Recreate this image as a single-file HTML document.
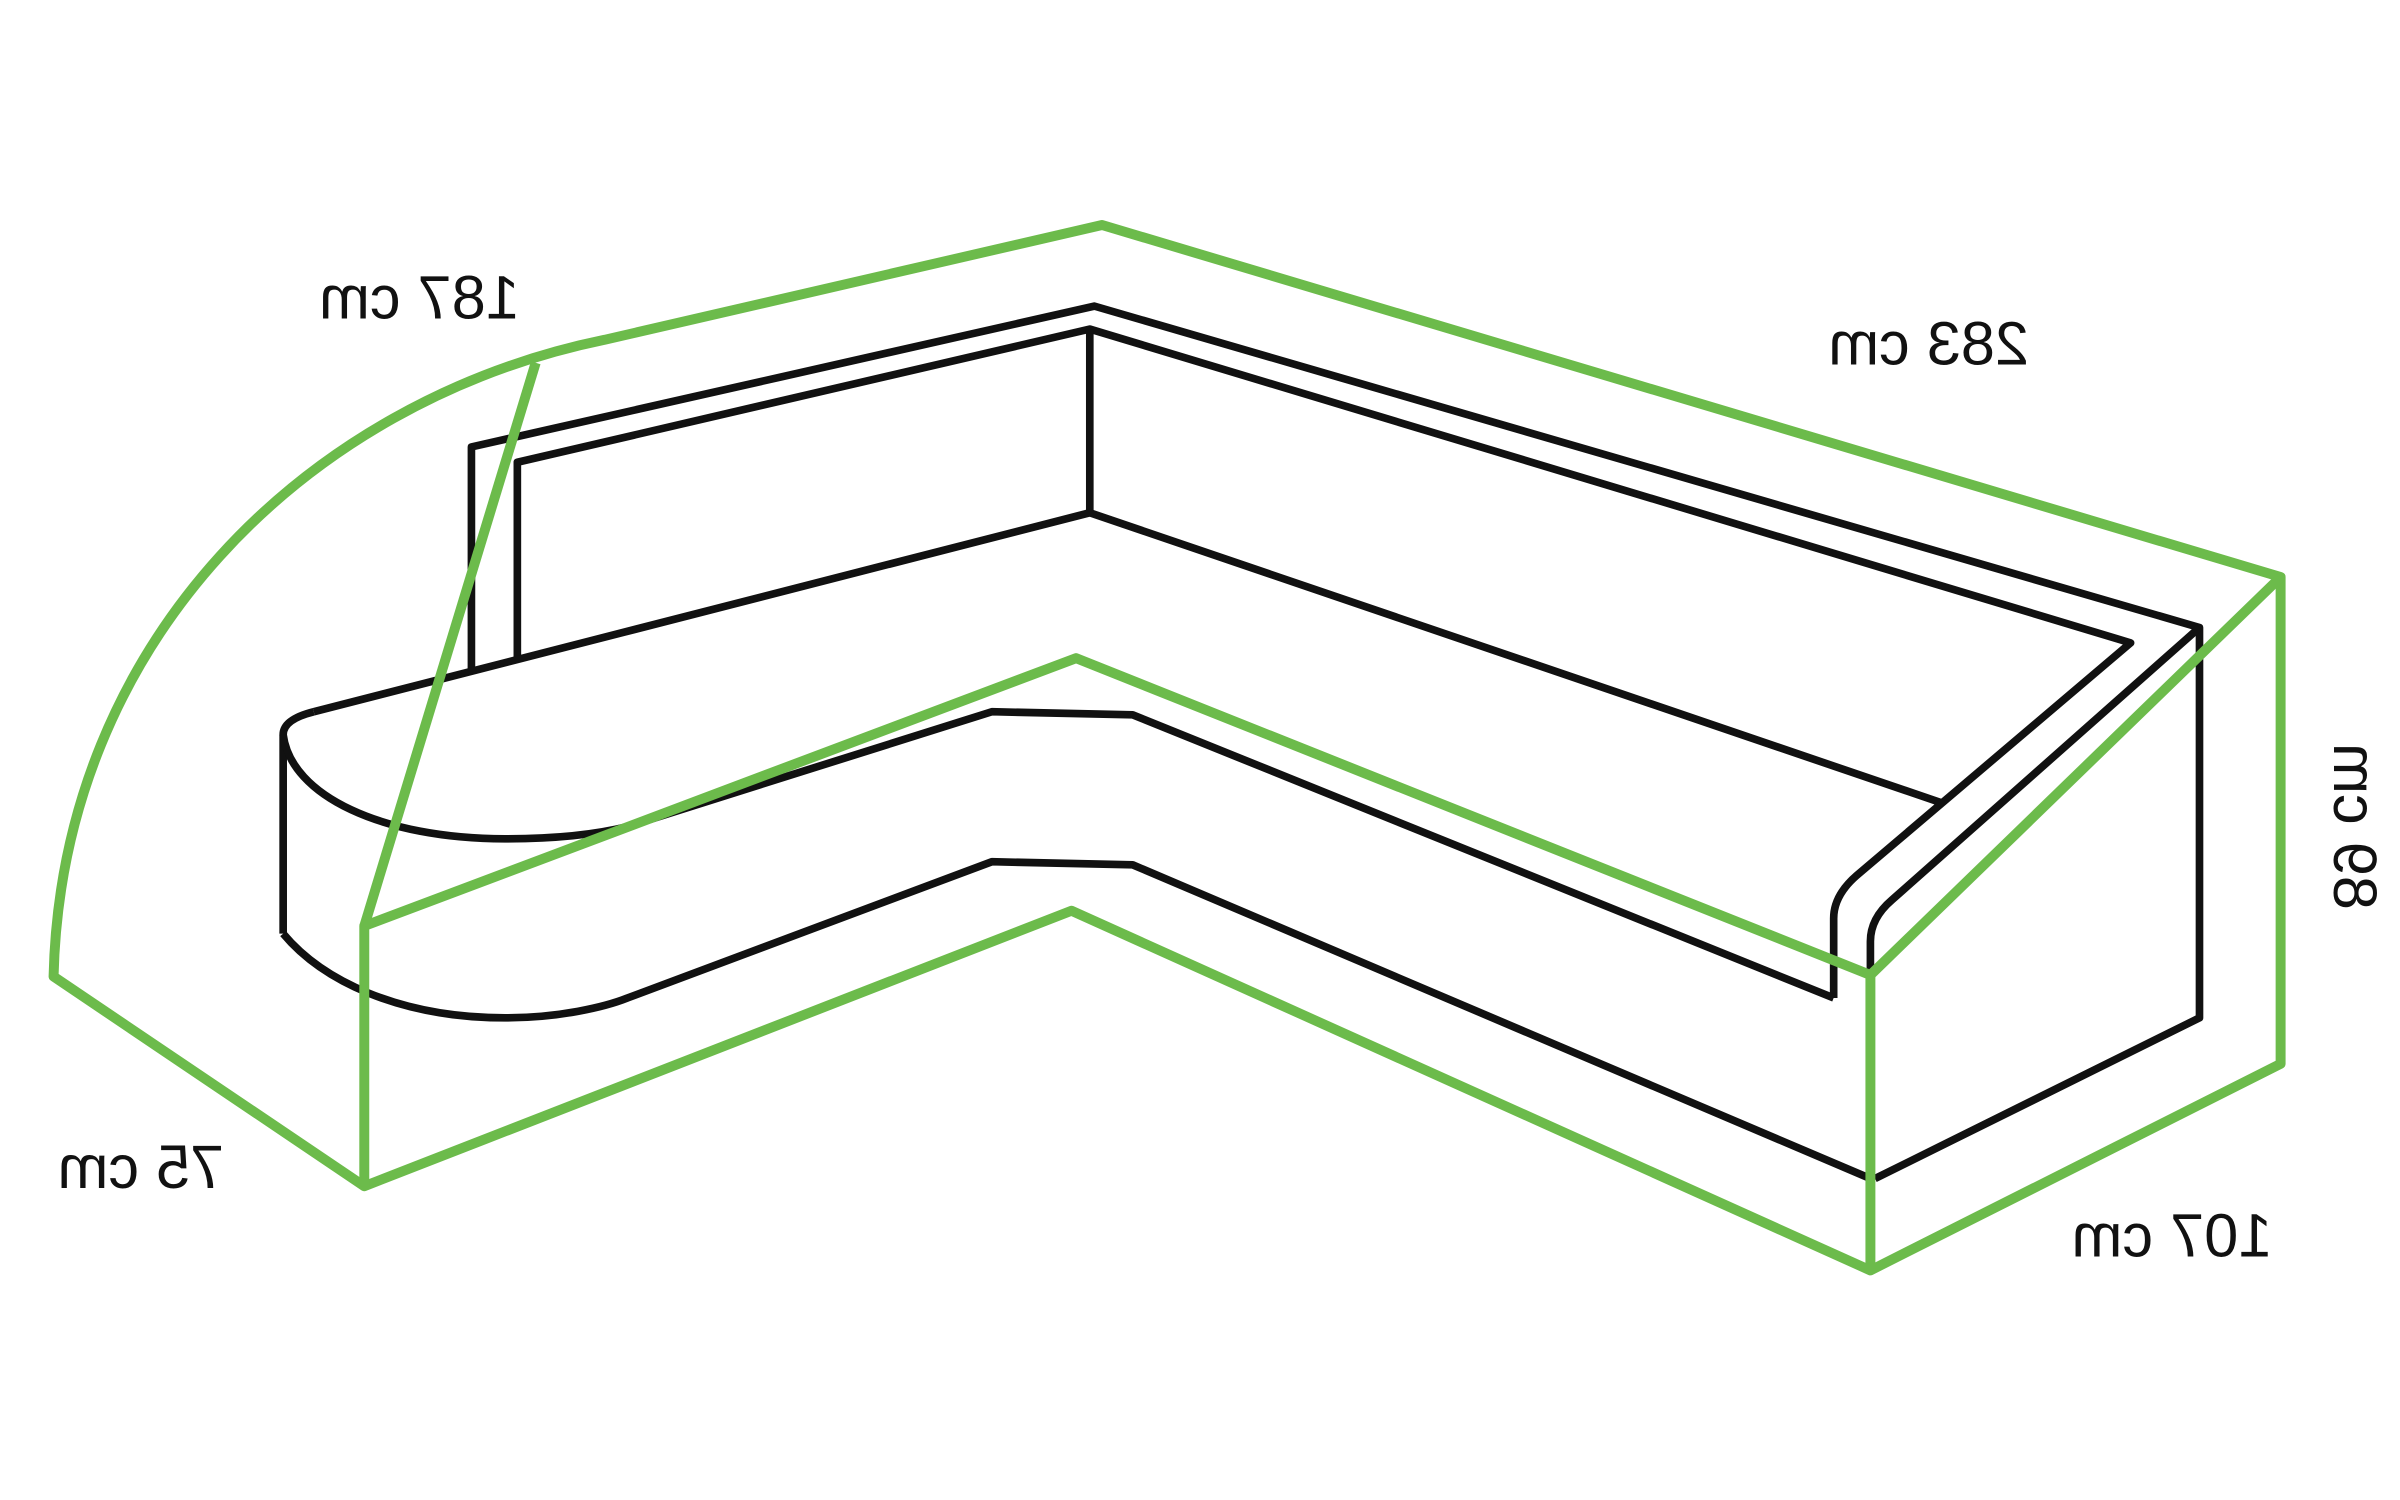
<!DOCTYPE html>
<html><head><meta charset="utf-8"><style>
html,body{margin:0;padding:0;background:#fff;width:2400px;height:1500px;overflow:hidden}
svg{display:block}
text{font-family:"Liberation Sans",sans-serif;font-size:40px;fill:#111}
</style></head><body>
<svg width="2400" height="1500" viewBox="0 0 1568 980" preserveAspectRatio="none">
<g fill="none" stroke="#111" stroke-width="5" stroke-linejoin="round">
<path d="M308,440 L308,292 L715,200 L1437,410 L1437,665 L1225,770"/>
<path d="M338,432 L338,302 L712,215 L1392,420 L1213,572 Q1198,585 1198,600 L1198,652"/>
<path d="M1437,410 L1236,588 Q1222,600 1222,615 L1222,640"/>
<path d="M712,215 L712,335"/>
<path d="M205,465 L712,335 L1270,525"/>
<path d="M205,465 Q185,470 185,480 L185,610"/>
<path d="M185,480 C190,520 250,548 330,548 C365,548 390,545 410,540 L648,465 L740,467 L1198,652"/>
<path d="M185,610 C210,640 260,665 330,665 C365,665 395,658 410,652 L648,563 L740,565 L1222,770"/>
</g>
<g fill="none" stroke="#6cbb4b" stroke-width="6.5" stroke-linejoin="round">
<path d="M35,638 C40,420 200,262 395,222 L720,147 L1490,377 L1490,695 L1222,830 L700,595 L238,775 Z"/>
<path d="M238,775 L238,605 L703,430 L1222,637 L1222,830"/>
<path d="M1222,637 L1490,377"/>
<path d="M238,605 L350,237"/>
</g>
<text transform="translate(274,208) scale(-1,1)" text-anchor="middle">187 cm</text>
<text transform="translate(1260,238) scale(-1,1)" text-anchor="middle">283 cm</text>
<text transform="translate(92,776) scale(-1,1)" text-anchor="middle">75 cm</text>
<text transform="translate(1419,821) scale(-1,1)" text-anchor="middle">107 cm</text>
<text transform="translate(1525,540) rotate(90) scale(-1,1)" text-anchor="middle">89 cm</text>
</svg>
</body></html>
